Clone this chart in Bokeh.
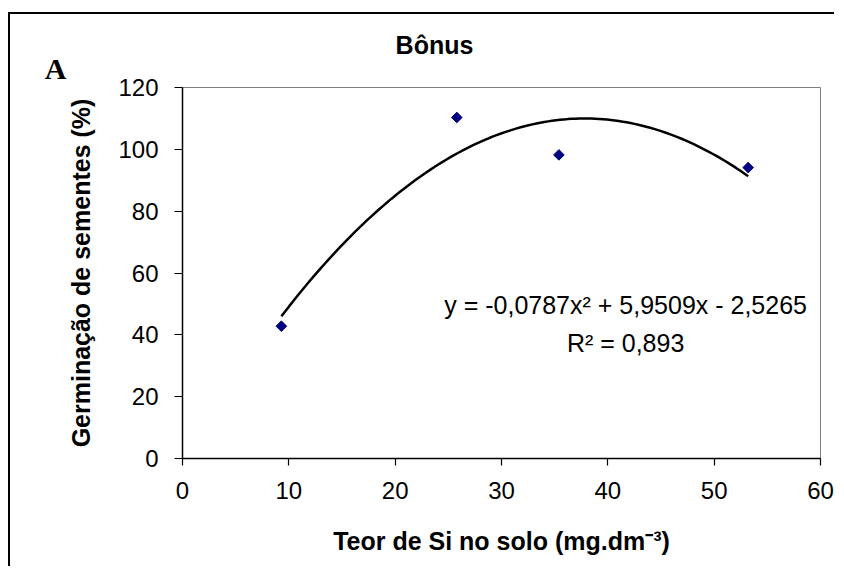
import numpy as np
from bokeh.plotting import figure
from bokeh.models import Range1d, Label, FixedTicker
from bokeh.embed import file_html
from bokeh.resources import INLINE

# Data
si_soil = [9.3, 25.8, 35.4, 53.2]          # Teor de Si no solo (mg.dm-3)
germination = [42.8, 110.3, 98.2, 94.1]    # Germinação de sementes (%)
trend_coef = [-0.0787, 5.9509, -2.5265]    # quadratic trendline coefficients (a, b, c)
x_ticks = [0, 10, 20, 30, 40, 50, 60]
y_ticks = [0, 20, 40, 60, 80, 100, 120]

title_text = "Bônus"
panel_letter = "A"
x_label = "Teor de Si no solo (mg.dm⁻³)"
y_label = "Germinação de sementes (%)"
eq_text = "y = -0,0787x² + 5,9509x - 2,5265"
r2_text = "R² = 0,893"

FONT = "Liberation Sans"

p = figure(width=826, height=554, output_backend="svg", toolbar_location=None,
           x_range=Range1d(0, 60), y_range=Range1d(0, 120),
           min_border_left=172, min_border_right=16, min_border_top=73, min_border_bottom=110)

# outer panel frame (left and top edges visible in the reference)
p.styles = {"margin-left": "8px", "margin-top": "12px",
            "border-left": "2px solid black", "border-top": "2px solid black"}

p.background_fill_color = "white"
p.border_fill_color = "white"
p.outline_line_color = "#808080"
p.outline_line_width = 1
p.xgrid.visible = False
p.ygrid.visible = False

for ax, ticks, tout in ((p.xaxis, x_ticks, 7), (p.yaxis, y_ticks, 8)):
    ax.ticker = FixedTicker(ticks=ticks)
    ax.minor_tick_line_color = None
    ax.major_tick_in = 0
    ax.major_tick_out = tout
    ax.major_tick_line_color = "black"
    ax.major_tick_line_width = 1.2
    ax.axis_line_color = "black"
    ax.axis_line_width = 1.5
    ax.major_label_text_font = FONT
    ax.major_label_text_font_size = "24px"
    ax.major_label_text_color = "black"
    ax.axis_label_text_font = FONT
    ax.axis_label_text_font_size = "25px"
    ax.axis_label_text_font_style = "bold"
    ax.axis_label_text_color = "black"

p.yaxis.major_label_standoff = 16
p.xaxis.major_label_standoff = 16
p.xaxis.axis_label = x_label
p.yaxis.axis_label = y_label
p.xaxis.axis_label_standoff = 25
p.yaxis.axis_label_standoff = 20

p.title.text = ""
p.title.visible = False

# Trendline from the equation shown on the chart
a, b, c = trend_coef
xs = np.linspace(min(si_soil), max(si_soil), 120)
ys = a * xs ** 2 + b * xs + c
p.line(xs, ys, line_color="black", line_width=2.5)

# Data points (diamonds)
p.scatter(si_soil, germination, marker="square", angle=np.pi / 4, size=7.5,
          fill_color="#000080", line_color="#000080")

# Equation texts (inside plot area)
p.add_layout(Label(x=41.67, y=49.5, text=eq_text, text_font=FONT, text_font_size="25px",
                   text_align="center", text_baseline="middle", text_color="black"))
p.add_layout(Label(x=41.67, y=37.5, text=r2_text, text_font=FONT, text_font_size="25px",
                   text_align="center", text_baseline="middle", text_color="black"))

# Title and panel letter, placed in a side panel so they are not clipped to the plot area
p.add_layout(Label(x=422, y=28, x_units="canvas", y_units="canvas", text=title_text,
                   text_font=FONT, text_font_size="25px", text_font_style="bold",
                   text_align="center", text_baseline="middle", text_color="black"), "above")
p.add_layout(Label(x=43, y=52, x_units="canvas", y_units="canvas", text=panel_letter,
                   text_font="Liberation Serif", text_font_size="30px", text_font_style="bold",
                   text_align="center", text_baseline="middle", text_color="black"), "above")

open("out.html", "w").write(file_html(p, INLINE))
